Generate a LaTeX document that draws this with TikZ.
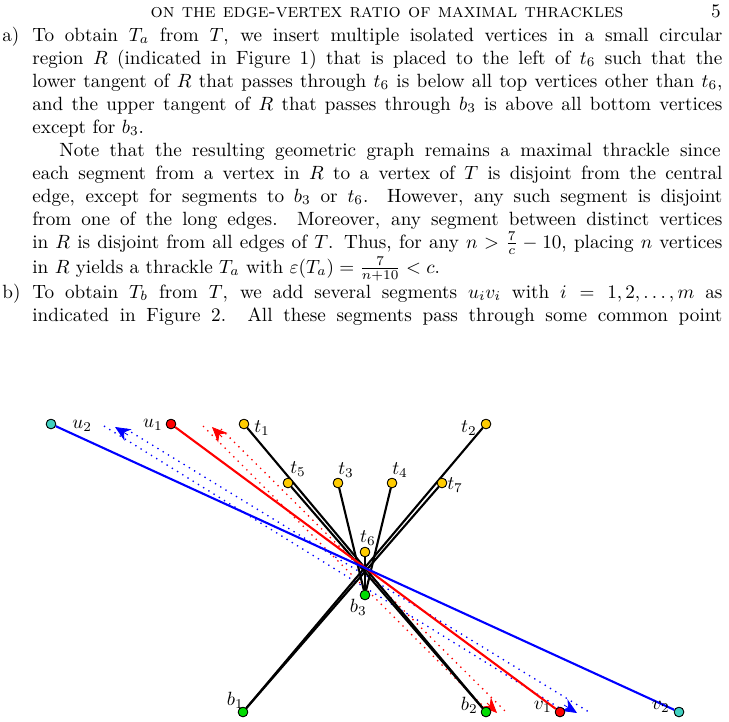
\documentclass[tikz,border=0pt]{standalone}
\usepackage{amsmath}
\usetikzlibrary{arrows.meta}
\newlength\LW \setlength\LW{360pt}
\newcommand\JL[1]{\hbox to \LW{#1}}
\definecolor{vy}{RGB}{255,204,0}
\definecolor{vg}{RGB}{0,220,0}
\definecolor{vc}{RGB}{64,208,192}
\begin{document}
\begin{tikzpicture}[x=0.5217pt,y=-0.5217pt,
  ln/.style={anchor=base west,inner sep=0pt},
  v/.style={circle,draw=black,line width=0.4pt,inner sep=0pt,minimum size=5pt},
  e/.style={line width=1.1pt},
  dt/.style={line width=0.7pt,dash pattern=on 0.7pt off 2.5pt},
  tip/.style={-{Stealth[length=8pt,width=7pt]}},
  lab/.style={inner sep=1pt}]
\useasboundingbox (0,0) rectangle (729,722);
\node[anchor=base,inner sep=0pt] (hd) at (387,17) {\textsc{on the edge-vertex ratio of maximal thrackles}};
\node[anchor=base east,inner sep=0pt] (pn) at (721,17) {5};
\node[ln] (la) at (2,41) {a)};
\node[ln] (l1) at (32,41) {\JL{To obtain $T_a$ from $T$, we insert multiple isolated vertices in a small circular}};
\node[ln] (l2) at (32,64) {\JL{region $R$ (indicated in Figure 1) that is placed to the left of $t_6$ such that the}};
\node[ln] (l3) at (32,87) {\JL{lower tangent of $R$ that passes through $t_6$ is below all top vertices other than $t_6$,}};
\node[ln] (l4) at (32,110) {\JL{and the upper tangent of $R$ that passes through $b_3$ is above all bottom vertices}};
\node[ln] (l5) at (32,133) {except for $b_3$.};
\node[ln] (l6) at (59,156) {\hbox to \dimexpr\LW-15pt\relax{Note that the resulting geometric graph remains a maximal thrackle since}};
\node[ln] (l7) at (32,179) {\JL{each segment from a vertex in $R$ to a vertex of $T$ is disjoint from the central}};
\node[ln] (l8) at (32,202) {\JL{edge, except for segments to $b_3$ or $t_6$. However, any such segment is disjoint}};
\node[ln] (l9) at (32,225) {\JL{from one of the long edges. Moreover, any segment between distinct vertices}};
\node[ln] (l10) at (32,248) {\JL{in $R$ is disjoint from all edges of $T$. Thus, for any $n>\frac{7}{c}-10$, placing $n$ vertices}};
\node[ln] (l11) at (32,273) {in $R$ yields a thrackle $T_a$ with $\varepsilon(T_a)=\frac{7}{n+10}<c$.};
\node[ln] (lb) at (2,298) {b)};
\node[ln] (l12) at (32,298) {\JL{To obtain $T_b$ from $T$, we add several segments $u_iv_i$ with $i=1,2,\ldots,m$ as}};
\node[ln] (l13) at (32,321) {\JL{indicated in Figure 2. All these segments pass through some common point}};
% dotted segments
\coordinate (ra) at (212,427);
\coordinate (rb) at (497,713);
\coordinate (ba) at (115,427);
\coordinate (bb) at (577,713);
\draw[red,dt] (203,426) -- (489,712);
\draw[red,dt] (221,429) -- (506,712);
\draw[blue,dt] (104,426) -- (566,712);
\draw[blue,dt] (126,429) -- (589,712);
\draw[red,tip] (222,437) -- (ra);
\draw[red,tip] (487,703) -- (rb);
\draw[blue,tip] (128,435) -- (ba);
\draw[blue,tip] (564,705) -- (bb);
\node[v,fill=vc] (u2) at (51,424) {};
\node[v,fill=red] (u1) at (171,424) {};
\node[v,fill=vy] (t1) at (244,424) {};
\node[v,fill=vy] (t2) at (486,424) {};
\node[v,fill=vy] (t5) at (288,483) {};
\node[v,fill=vy] (t3) at (338,483) {};
\node[v,fill=vy] (t4) at (392,483) {};
\node[v,fill=vy] (t7) at (442,483) {};
\node[v,fill=vy] (t6) at (365,552) {};
\node[v,fill=vg] (b3) at (365,595) {};
\node[v,fill=vg] (b1) at (243,712) {};
\node[v,fill=vg] (b2) at (486,712) {};
\node[v,fill=red] (v1) at (560,712) {};
\node[v,fill=vc] (v2) at (679,712) {};
\draw[e] (t1) -- (b2);
\draw[e] (t5) -- (b2);
\draw[e] (t2) -- (b1);
\draw[e] (t7) -- (b1);
\draw[e] (t3) -- (b3);
\draw[e] (t4) -- (b3);
\draw[e] (t6) -- (b3);
\draw[e,red] (u1) -- (v1);
\draw[e,blue] (u2) -- (v2);
\foreach \n/\c in {u2/vc,u1/red,t1/vy,t2/vy,t5/vy,t3/vy,t4/vy,t7/vy,t6/vy,b3/vg,b1/vg,b2/vg,v1/red,v2/vc}
  \node[v,fill=\c] at (\n) {};
\node[lab,anchor=west] at (70,426) {$u_2$};
\node[lab,anchor=east] at (165,425) {$u_1$};
\node[lab,anchor=west] at (252,428) {$t_1$};
\node[lab,anchor=east] at (479,428) {$t_2$};
\node[lab,anchor=south west] at (288,479) {$t_5$};
\node[lab,anchor=south west] at (336,480) {$t_3$};
\node[lab,anchor=south west] at (390,480) {$t_4$};
\node[lab,anchor=west] at (445,485) {$t_7$};
\node[lab,anchor=south] at (368,548) {$t_6$};
\node[lab,anchor=north east] at (369,597) {$b_3$};
\node[lab,anchor=south east] at (246,711) {$b_1$};
\node[lab,anchor=east] at (480,705) {$b_2$};
\node[lab,anchor=east] at (554,707) {$v_1$};
\node[lab,anchor=east] at (672,707) {$v_2$};
\end{tikzpicture}
\end{document}
